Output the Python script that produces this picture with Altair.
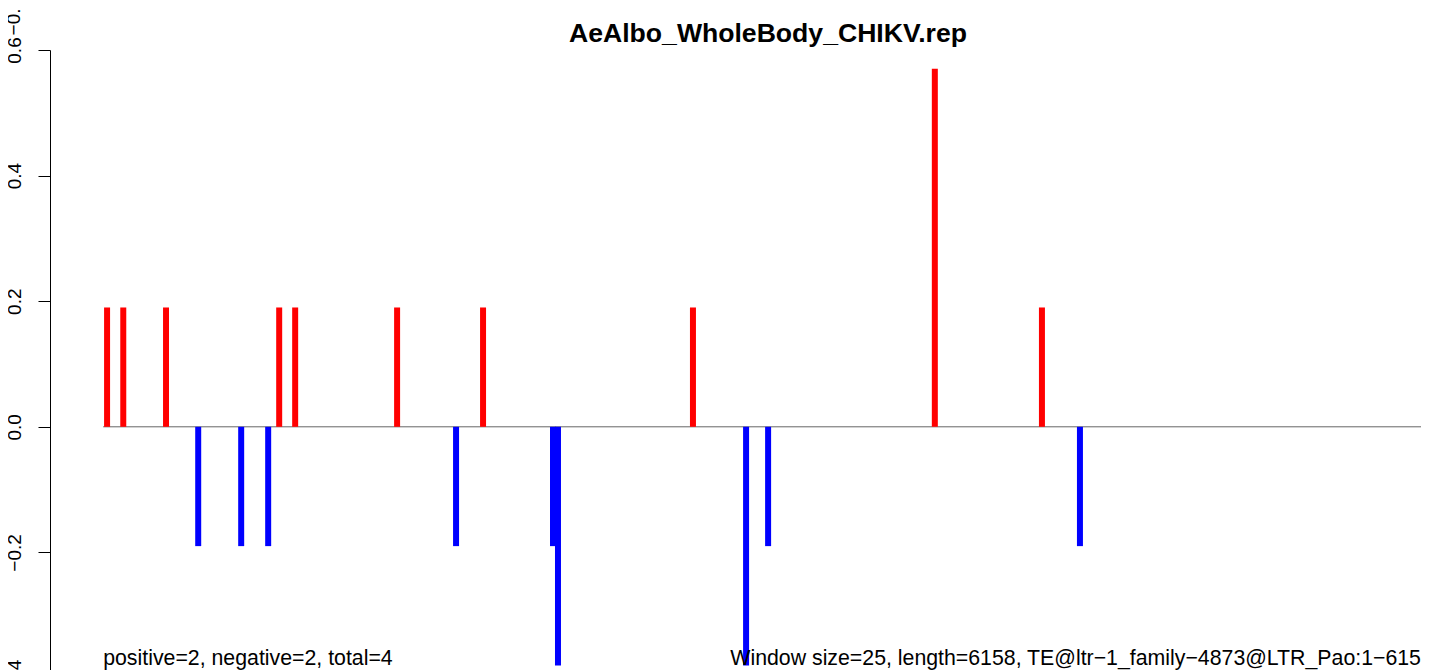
import altair as alt
import pandas as pd

title_text = "AeAlbo_WholeBody_CHIKV.rep"
seq_start = 1
seq_length = 6158

# bar positions (bp) and scores
positions = [19, 94, 292, 441, 640, 765, 816, 890, 1362, 1635, 1760,
             2084, 2107, 2732, 2978, 3080, 3852, 4348, 4524]
values = [0.19, 0.19, 0.19, -0.19, -0.19, -0.19, 0.19, 0.19, 0.19, -0.19, 0.19,
          -0.19, -0.38, 0.19, -0.38, -0.19, 0.57, 0.19, -0.19]

y_ticks = [-0.4, -0.2, 0.0, 0.2, 0.4, 0.6]

note_left = "positive=2, negative=2, total=4"
note_right = "Window size=25, length=6158, TE@ltr\u22121_family\u22124873@LTR_Pao:1\u22126158"
note_y = -0.38

# cut-off axis label of the panel above (only its lower end shows)
prev_panel_label = "\u22120.4"
prev_panel_label_y = 0.653

bars = pd.DataFrame({
    "pos": positions,
    "score": values,
    "sign": ["pos" if v > 0 else "neg" for v in values],
})
baseline = pd.DataFrame({"x": [seq_start], "x2": [seq_length], "y": [0.0]})
notes = pd.DataFrame({
    "x": [seq_start, seq_length],
    "y": [note_y, note_y],
    "label": [note_left, note_right],
    "align": ["left", "right"],
})
prev = pd.DataFrame({"y": [prev_panel_label_y], "label": [prev_panel_label]})

# R-style 4% extended x range; the page shows only the left part of the full plot region
VIEW_W = 1371
VIEW_H = 628
FULL_W = 1436
pad = 0.04 * (seq_length - seq_start)
x0 = seq_start - pad
x1_full = seq_length + pad
x1_visible = x0 + (x1_full - x0) * VIEW_W / FULL_W
xscale = alt.Scale(domain=[x0, x1_visible], nice=False, zero=False)
yscale = alt.Scale(domain=[-0.4, 0.6], nice=False, zero=False)

# title centred over the full plot region, just above its top
title_df = pd.DataFrame({"x": [(x0 + x1_full) / 2], "y": [0.6 + 8.5 / VIEW_H], "label": [title_text]})

FONT = "Liberation Sans"

zero_line = alt.Chart(baseline).mark_rule(color="#666666", strokeWidth=1).encode(
    x=alt.X("x:Q", scale=xscale, axis=None),
    x2="x2:Q",
    y=alt.Y("y:Q", scale=yscale,
            axis=alt.Axis(values=y_ticks, format=".1f", title=None, grid=False,
                          labelAngle=270, labelAlign="center", labelBaseline="alphabetic",
                          labelPadding=18, labelFontSize=19, labelFont=FONT,
                          labelColor="black", tickSize=12, tickColor="black",
                          domainColor="black", tickWidth=1, domainWidth=1,
                          labelFlush=False, labelOverlap=False)),
)

bar_layer = alt.Chart(bars).mark_rule(strokeWidth=6, strokeCap="butt").encode(
    x=alt.X("pos:Q", scale=xscale, axis=None),
    y=alt.Y("score:Q", scale=yscale),
    y2=alt.datum(0),
    color=alt.Color("sign:N", scale=alt.Scale(domain=["pos", "neg"], range=["#ff0000", "#0000ff"]),
                    legend=None),
)

left_note = alt.Chart(notes[notes["align"] == "left"]).mark_text(
    align="left", baseline="alphabetic", fontSize=21.3, font=FONT, color="black"
).encode(x=alt.X("x:Q", scale=xscale, axis=None), y=alt.Y("y:Q", scale=yscale), text="label:N")

right_note = alt.Chart(notes[notes["align"] == "right"]).mark_text(
    align="right", baseline="alphabetic", fontSize=21.3, font=FONT, color="black"
).encode(x=alt.X("x:Q", scale=xscale, axis=None), y=alt.Y("y:Q", scale=yscale), text="label:N")

title_layer = alt.Chart(title_df).mark_text(
    align="center", baseline="alphabetic", fontSize=26.6, fontWeight="bold", font=FONT, color="black"
).encode(x=alt.X("x:Q", scale=xscale, axis=None), y=alt.Y("y:Q", scale=yscale), text="label:N")

prev_label = alt.Chart(prev).mark_text(
    align="center", baseline="alphabetic", angle=270, fontSize=19, font=FONT, color="black"
).encode(x=alt.value(-30), y=alt.Y("y:Q", scale=yscale), text="label:N")

chart = alt.layer(zero_line, bar_layer, left_note, right_note, title_layer, prev_label).properties(
    width=VIEW_W,
    height=VIEW_H,
    background="white",
    autosize=alt.AutoSizeParams(type="none"),
    padding={"left": 42, "top": 42, "right": 0, "bottom": 0},
).configure_view(strokeWidth=0, stroke="transparent")

chart.save("out.html", embed_options={"renderer": "svg", "actions": False})
